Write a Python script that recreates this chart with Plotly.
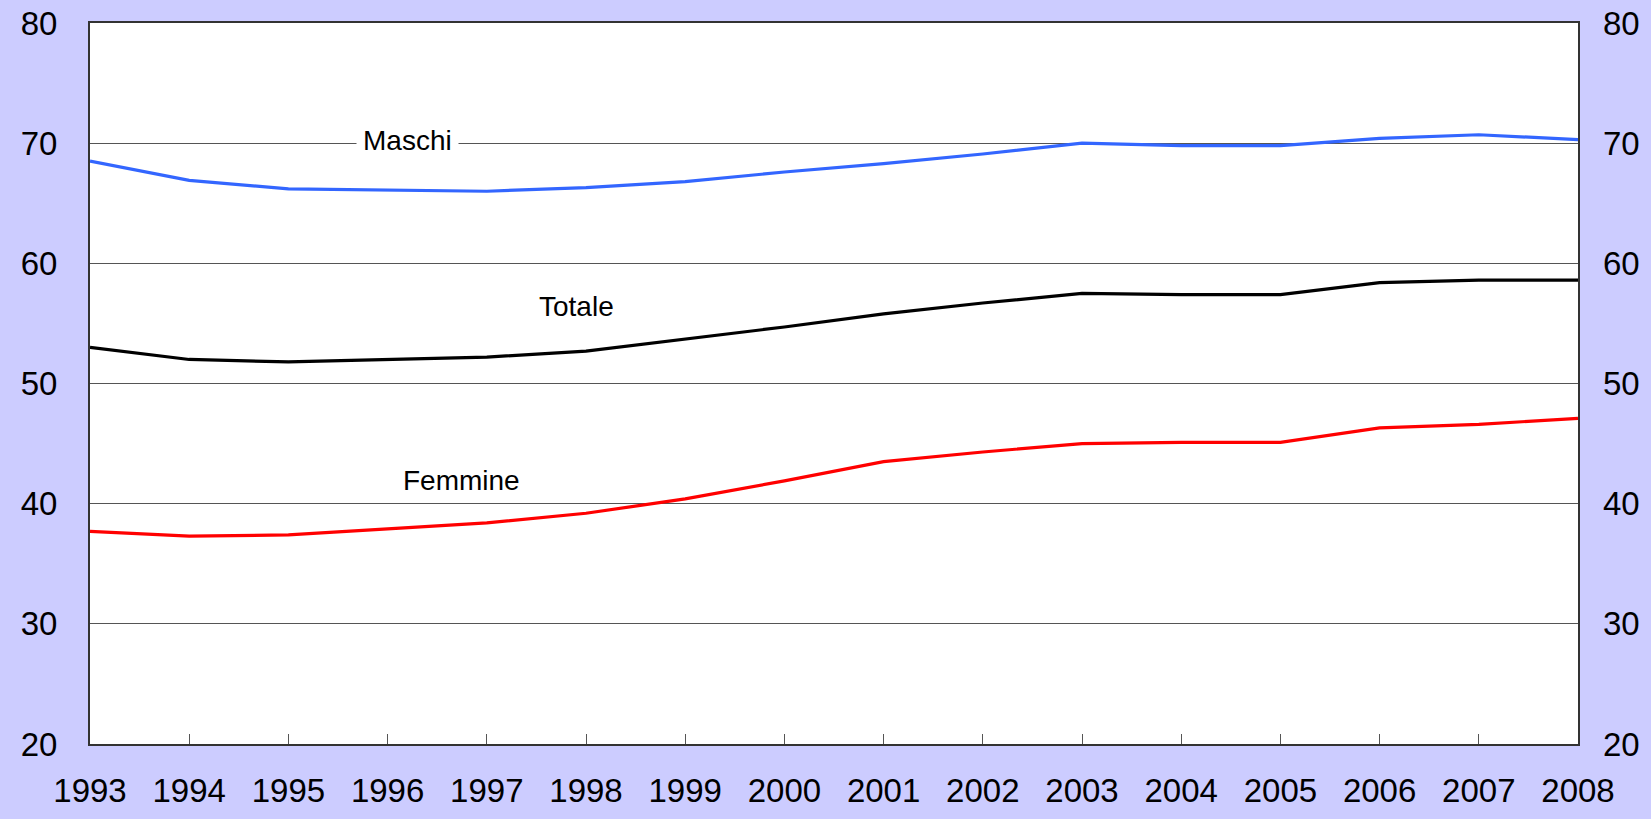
import plotly.graph_objects as go

# Tasso di occupazione per sesso, 1993-2008
anni = [1993, 1994, 1995, 1996, 1997, 1998, 1999, 2000,
        2001, 2002, 2003, 2004, 2005, 2006, 2007, 2008]

maschi = [68.5, 66.9, 66.2, 66.1, 66.0, 66.3, 66.8, 67.6,
          68.3, 69.1, 70.0, 69.8, 69.8, 70.4, 70.7, 70.3]

totale = [53.0, 52.0, 51.8, 52.0, 52.2, 52.7, 53.7, 54.7,
          55.8, 56.7, 57.5, 57.4, 57.4, 58.4, 58.6, 58.6]

femmine = [37.7, 37.3, 37.4, 37.9, 38.4, 39.2, 40.4, 41.9,
           43.5, 44.3, 45.0, 45.1, 45.1, 46.3, 46.6, 47.1]

y_ticks = [20, 30, 40, 50, 60, 70, 80]

FONT = "Liberation Sans, Arial, sans-serif"
GRID = "#555555"

fig = go.Figure()
fig.add_trace(go.Scatter(x=anni, y=maschi, mode="lines", name="Maschi",
                         line=dict(color="#3366FF", width=3.2)))
fig.add_trace(go.Scatter(x=anni, y=femmine, mode="lines", name="Femmine",
                         line=dict(color="#FF0000", width=3.2)))
# Totale on the right-hand axis (same scale) so that axis is drawn too
fig.add_trace(go.Scatter(x=anni, y=totale, mode="lines", name="Totale",
                         yaxis="y2",
                         line=dict(color="#000000", width=3.2)))

# Etichette delle serie
etichette = [("Maschi", 1996.2, 70.25), ("Totale", 1997.9, 56.4), ("Femmine", 1996.74, 41.9)]
for testo, x, y in etichette:
    fig.add_annotation(x=x, y=y, text=testo, showarrow=False,
                       font=dict(family=FONT, size=28, color="#000000"),
                       bgcolor="rgba(255,255,255,1)" if testo == "Maschi" else "rgba(0,0,0,0)",
                       borderpad=6)

fig.update_layout(
    width=1651, height=819,
    margin=dict(l=90, r=73, t=23, b=75),
    paper_bgcolor="#CCCCFF",
    plot_bgcolor="#FFFFFF",
    showlegend=False,
    font=dict(family=FONT, size=33, color="#000000"),
    xaxis=dict(
        range=[1993, 2008], tickmode="array", tickvals=anni,
        ticktext=[str(a) for a in anni],
        ticks="inside", ticklen=10, tickcolor=GRID, tickwidth=1,
        showgrid=False, zeroline=False, automargin=False,
        showline=True, linecolor="#333333", linewidth=2, mirror=True,
        ticklabelstandoff=16,
    ),
    yaxis=dict(
        range=[20, 80], tickvals=y_ticks,
        ticks="inside", ticklen=10, tickcolor=GRID, tickwidth=1,
        showgrid=True, gridcolor=GRID, gridwidth=1, zeroline=False,
        showline=True, linecolor="#333333", linewidth=2, mirror=True,
        ticklabelstandoff=24, automargin=False,
    ),
    yaxis2=dict(
        range=[20, 80], tickvals=y_ticks, overlaying="y", side="right",
        ticks="inside", ticklen=10, tickcolor=GRID, tickwidth=1,
        showgrid=False, zeroline=False, showline=False,
        ticklabelstandoff=24, automargin=False,
    ),
)

fig.write_html("out.html")
